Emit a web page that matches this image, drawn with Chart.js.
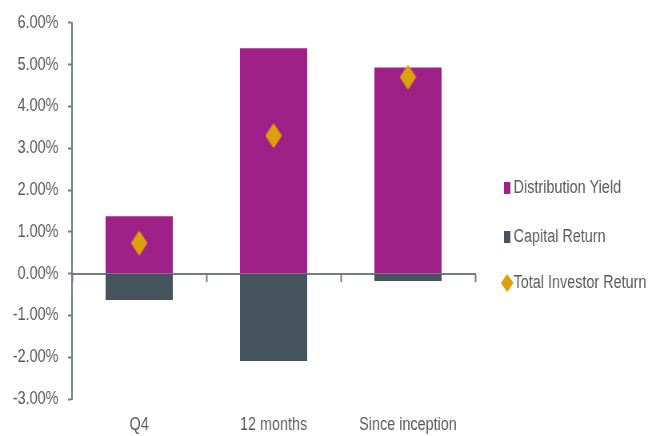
<!DOCTYPE html>
<html>
<head>
<meta charset="utf-8">
<script src="https://cdn.jsdelivr.net/npm/chart.js@4"></script>
<style>
  html, body { margin: 0; padding: 0; background: #fff; overflow: hidden; }
  /* chart is laid out wide and squeezed horizontally to 665px */
  #wrap { width: 832px; height: 436px; transform: scaleX(0.8); transform-origin: 0 0; }
</style>
</head>
<body>
<div id="wrap"><canvas id="returns" width="832" height="436"></canvas></div>
<script>
var categories = ['Q4', '12 months', 'Since inception'];
var distributionYield = [1.37, 5.39, 4.93];
var capitalReturn = [-0.63, -2.09, -0.18];
var totalReturn = [0.73, 3.30, 4.70];

var PURPLE = '#9f2188';
var SLATE = '#45535d';
var GOLD = '#dba20c';
var AXIS = '#707c86';
var TEXT = '#595959';
var FONT = "'Liberation Sans', Arial, sans-serif";

// diamond used as the point marker
function diamond(w, h, color) {
    var c = document.createElement('canvas');
    c.width = w; c.height = h;
    var ctx = c.getContext('2d');
    ctx.fillStyle = color;
    ctx.strokeStyle = color;
    ctx.lineWidth = 2;
    ctx.lineJoin = 'round';
    ctx.beginPath();
    ctx.moveTo(w / 2, 1.5);
    ctx.lineTo(w - 1.5, h / 2);
    ctx.lineTo(w / 2, h - 1.5);
    ctx.lineTo(1.5, h / 2);
    ctx.closePath();
    ctx.fill();
    ctx.stroke();
    return c;
}

var pointMarker = diamond(21, 25, GOLD);
var legendMarker = diamond(16, 18, GOLD);

// legend on the right, one row per dataset
var sideLegend = {
    id: 'sideLegend',
    afterDraw: function(chart) {
        var ctx = chart.ctx;
        var rows = [188, 237, 283];
        ctx.save();
        ctx.font = '18px ' + FONT;
        ctx.textBaseline = 'middle';
        chart.data.datasets.forEach(function(ds, i) {
            var y = rows[i];
            if (ds.type === 'line') {
                ctx.drawImage(legendMarker, 626, y - 9);
            } else {
                ctx.fillStyle = ds.backgroundColor;
                ctx.fillRect(630, y - 6, 8, 12);
            }
            ctx.fillStyle = TEXT;
            ctx.fillText(ds.label, 642, y);
        });
        ctx.restore();
    }
};

new Chart(document.getElementById('returns'), {
    type: 'bar',
    data: {
        labels: categories,
        datasets: [
            {label: 'Distribution Yield', data: distributionYield, backgroundColor: PURPLE, stack: 'bars', order: 2},
            {label: 'Capital Return', data: capitalReturn, backgroundColor: SLATE, stack: 'bars', order: 2},
            {label: 'Total Investor Return', type: 'line', data: totalReturn, stack: 'total', order: 0,
             showLine: false, pointStyle: pointMarker, backgroundColor: GOLD, borderColor: GOLD}
        ]
    },
    options: {
        responsive: false,
        animation: false,
        categoryPercentage: 0.5,
        barPercentage: 1,
        layout: {padding: {top: 22, right: 238, bottom: 0, left: 0}},
        plugins: {legend: {display: false}, tooltip: {enabled: false}},
        scales: {
            x: {
                stacked: true,
                position: {y: 0},
                afterFit: function(scale) { scale.height = 0; },
                grid: {drawOnChartArea: false, drawTicks: true, tickLength: 7, tickWidth: 2, tickColor: AXIS},
                border: {color: AXIS, width: 2},
                ticks: {display: false}
            },
            x2: {
                type: 'category',
                labels: categories,
                position: 'bottom',
                offset: true,
                afterFit: function(scale) { scale.height = 37; },
                grid: {display: false, drawTicks: false},
                border: {display: false},
                ticks: {color: TEXT, font: {family: FONT, size: 18}, padding: 15}
            },
            y: {
                stacked: true,
                min: -3,
                max: 6,
                afterFit: function(scale) { scale.width = 90; },
                grid: {drawOnChartArea: false, tickLength: 5, tickWidth: 2, tickColor: AXIS},
                border: {color: AXIS, width: 2},
                ticks: {
                    stepSize: 1,
                    padding: 12,
                    color: TEXT,
                    font: {family: FONT, size: 18},
                    callback: function(v) { return v.toFixed(2) + '%'; }
                }
            }
        }
    },
    plugins: [sideLegend]
});
</script>
</body>
</html>
